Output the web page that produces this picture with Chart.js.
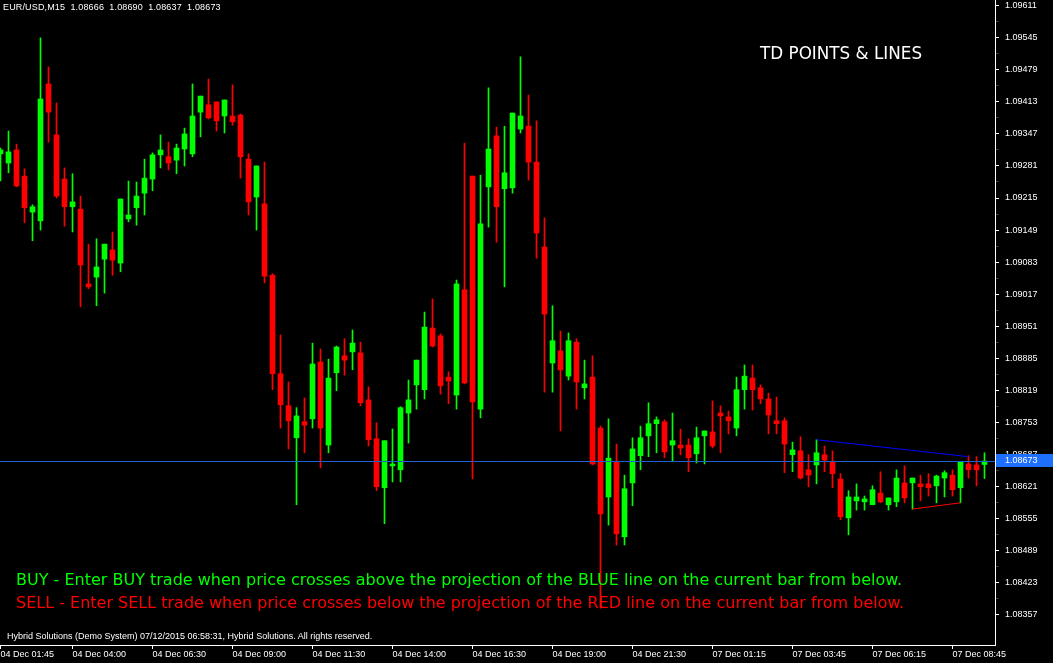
<!DOCTYPE html>
<html>
<head>
<meta charset="utf-8">
<script src="https://cdn.jsdelivr.net/npm/chart.js@4.4.1/dist/chart.umd.min.js"></script>
<style>
  html, body { margin: 0; padding: 0; background: #000; }
  #wrap { position: relative; width: 1053px; height: 663px; overflow: hidden; }
  canvas { display: block; }
  .txt { position: absolute; white-space: pre; line-height: 1; }
  .small { font-family: "Liberation Sans", sans-serif; font-size: 9px; color: #fff; }
  .big { font-family: "DejaVu Sans", sans-serif; font-size: 16px; }
</style>
</head>
<body>
<div id="wrap">
  <canvas id="chart" width="1053" height="663"></canvas>
  <div class="txt small" style="left:3px;top:3px;letter-spacing:0.15px;">EUR/USD,M15  1.08666  1.08690  1.08637  1.08673</div>
  <div class="txt" style="left:760px;top:45px;font-family:'DejaVu Sans',sans-serif;font-size:16.8px;color:#fff;">TD POINTS &amp; LINES</div>
  <div class="txt big" style="left:16px;top:572px;color:#00ff00;">BUY - Enter BUY trade when price crosses above the projection of the BLUE line on the current bar from below.</div>
  <div class="txt big" style="left:16px;top:595px;color:#ff0000;">SELL - Enter SELL trade when price crosses below the projection of the RED line on the current bar from below.</div>
  <div class="txt small" style="left:7px;top:632px;">Hybrid Solutions (Demo System) 07/12/2015 06:58:31, Hybrid Solutions. All rights reserved.</div>
</div>
<script>
// EUR/USD M15 bars, oldest first (bar 0 = 04 Dec 01:45)
const opens = [
  1.09306, 1.09287, 1.09314, 1.09260, 1.09186, 1.09168, 1.09450, 1.09345, 1.09254, 1.09197,
  1.09192, 1.09038, 1.09052, 1.09089, 1.09108, 1.09081, 1.09172, 1.09195, 1.09225, 1.09254,
  1.09304, 1.09300, 1.09293, 1.09316, 1.09306, 1.09392, 1.09407, 1.09413, 1.09384, 1.09384,
  1.09386, 1.09295, 1.09217, 1.09203, 1.09056, 1.08853, 1.08787, 1.08721, 1.08754, 1.08760,
  1.08877, 1.08706, 1.08855, 1.08890, 1.08898, 1.08896, 1.08799, 1.08719, 1.08618, 1.08663,
  1.08655, 1.08772, 1.08830, 1.08820, 1.08947, 1.08931, 1.08846, 1.08809, 1.09026, 1.09260,
  1.08780, 1.09238, 1.09343, 1.09234, 1.09236, 1.09357, 1.09363, 1.09289, 1.09114, 1.08875,
  1.08900, 1.08848, 1.08918, 1.08824, 1.08846, 1.08741, 1.08599, 1.08671, 1.08517, 1.08628,
  1.08684, 1.08725, 1.08750, 1.08754, 1.08706, 1.08706, 1.08706, 1.08688, 1.08725, 1.08733,
  1.08772, 1.08764, 1.08741, 1.08820, 1.08844, 1.08824, 1.08801, 1.08756, 1.08756, 1.08686,
  1.08694, 1.08655, 1.08665, 1.08686, 1.08671, 1.08636, 1.08556, 1.08591, 1.08589, 1.08583,
  1.08607, 1.08583, 1.08589, 1.08628, 1.08628, 1.08626, 1.08626, 1.08622, 1.08638, 1.08644,
  1.08618, 1.08667, 1.08665, 1.08666
];
const highs = [
  1.09318, 1.09353, 1.09326, 1.09275, 1.09201, 1.09545, 1.09485, 1.09411, 1.09277, 1.09265,
  1.09219, 1.09120, 1.09131, 1.09120, 1.09145, 1.09213, 1.09250, 1.09248, 1.09295, 1.09308,
  1.09345, 1.09330, 1.09326, 1.09359, 1.09450, 1.09425, 1.09460, 1.09413, 1.09417, 1.09448,
  1.09388, 1.09306, 1.09281, 1.09289, 1.09059, 1.08933, 1.08836, 1.08783, 1.08803, 1.08916,
  1.08904, 1.08883, 1.08910, 1.08925, 1.08943, 1.08918, 1.08826, 1.08752, 1.08715, 1.08739,
  1.08785, 1.08840, 1.08881, 1.08980, 1.09007, 1.08935, 1.08857, 1.09046, 1.09328, 1.09260,
  1.09262, 1.09442, 1.09361, 1.09363, 1.09390, 1.09506, 1.09427, 1.09374, 1.09174, 1.08993,
  1.08941, 1.08937, 1.08925, 1.08881, 1.08890, 1.08745, 1.08760, 1.08708, 1.08644, 1.08721,
  1.08745, 1.08793, 1.08764, 1.08758, 1.08772, 1.08739, 1.08719, 1.08743, 1.08735, 1.08797,
  1.08787, 1.08776, 1.08846, 1.08871, 1.08871, 1.08830, 1.08813, 1.08805, 1.08762, 1.08712,
  1.08723, 1.08686, 1.08717, 1.08704, 1.08694, 1.08647, 1.08612, 1.08626, 1.08601, 1.08622,
  1.08651, 1.08597, 1.08655, 1.08663, 1.08638, 1.08644, 1.08647, 1.08644, 1.08653, 1.08655,
  1.08671, 1.08684, 1.08682, 1.08690
];
const lows = [
  1.09250, 1.09267, 1.09238, 1.09164, 1.09127, 1.09149, 1.09330, 1.09215, 1.09157, 1.09145,
  1.08991, 1.09028, 1.08993, 1.09019, 1.09056, 1.09063, 1.09166, 1.09159, 1.09180, 1.09230,
  1.09277, 1.09273, 1.09265, 1.09281, 1.09300, 1.09341, 1.09378, 1.09353, 1.09349, 1.09365,
  1.09256, 1.09180, 1.09149, 1.09040, 1.08820, 1.08741, 1.08698, 1.08583, 1.08690, 1.08741,
  1.08659, 1.08690, 1.08818, 1.08850, 1.08861, 1.08787, 1.08704, 1.08612, 1.08544, 1.08630,
  1.08630, 1.08710, 1.08780, 1.08801, 1.08908, 1.08811, 1.08791, 1.08780, 1.08832, 1.08636,
  1.08762, 1.09155, 1.09124, 1.09032, 1.09225, 1.09349, 1.09252, 1.09091, 1.08815, 1.08815,
  1.08735, 1.08840, 1.08780, 1.08801, 1.08665, 1.08370, 1.08541, 1.08500, 1.08500, 1.08581,
  1.08655, 1.08682, 1.08690, 1.08680, 1.08673, 1.08686, 1.08651, 1.08669, 1.08667, 1.08700,
  1.08690, 1.08729, 1.08725, 1.08780, 1.08778, 1.08791, 1.08729, 1.08729, 1.08649, 1.08651,
  1.08636, 1.08620, 1.08626, 1.08651, 1.08618, 1.08552, 1.08521, 1.08572, 1.08572, 1.08583,
  1.08587, 1.08572, 1.08579, 1.08587, 1.08574, 1.08591, 1.08601, 1.08587, 1.08599, 1.08601,
  1.08587, 1.08638, 1.08622, 1.08637
];
const closes = [
  1.09314, 1.09310, 1.09240, 1.09195, 1.09197, 1.09419, 1.09392, 1.09219, 1.09197, 1.09207,
  1.09077, 1.09032, 1.09073, 1.09120, 1.09087, 1.09213, 1.09180, 1.09219, 1.09256, 1.09304,
  1.09314, 1.09287, 1.09318, 1.09347, 1.09384, 1.09425, 1.09380, 1.09374, 1.09417, 1.09372,
  1.09300, 1.09207, 1.09281, 1.09054, 1.08853, 1.08789, 1.08756, 1.08766, 1.08747, 1.08873,
  1.08741, 1.08844, 1.08908, 1.08881, 1.08916, 1.08793, 1.08717, 1.08620, 1.08715, 1.08667,
  1.08783, 1.08799, 1.08881, 1.08949, 1.08910, 1.08828, 1.08838, 1.09038, 1.08834, 1.08795,
  1.09162, 1.09316, 1.09197, 1.09267, 1.09390, 1.09384, 1.09289, 1.09143, 1.08976, 1.08921,
  1.08861, 1.08921, 1.08836, 1.08832, 1.08667, 1.08564, 1.08679, 1.08523, 1.08616, 1.08698,
  1.08721, 1.08750, 1.08758, 1.08692, 1.08715, 1.08700, 1.08680, 1.08721, 1.08735, 1.08704,
  1.08766, 1.08756, 1.08820, 1.08848, 1.08820, 1.08801, 1.08768, 1.08750, 1.08708, 1.08696,
  1.08638, 1.08644, 1.08690, 1.08675, 1.08647, 1.08558, 1.08599, 1.08599, 1.08595, 1.08614,
  1.08589, 1.08597, 1.08638, 1.08597, 1.08638, 1.08620, 1.08618, 1.08642, 1.08649, 1.08614,
  1.08671, 1.08655, 1.08655, 1.08673
];

// time axis labels and the bar each one sits on
const timeLabels = ["04 Dec 01:45", "04 Dec 04:00", "04 Dec 06:30", "04 Dec 09:00", "04 Dec 11:30",
  "04 Dec 14:00", "04 Dec 16:30", "04 Dec 19:00", "04 Dec 21:30", "07 Dec 01:15",
  "07 Dec 03:45", "07 Dec 06:15", "07 Dec 08:45"];
const labelBars = [0, 9, 19, 29, 39, 49, 59, 69, 79, 89, 99, 109, 119];

// price scale labels
const priceTicks = [1.09611, 1.09545, 1.09479, 1.09413, 1.09347, 1.09281, 1.09215, 1.09149,
  1.09083, 1.09017, 1.08951, 1.08885, 1.08819, 1.08753, 1.08687, 1.08621, 1.08555, 1.08489,
  1.08423, 1.08357];

const bid = 1.08673;

// TD lines (bar index, price)
const tdBlueBars = [102, 121];
const tdBluePrices = [1.08717, 1.08682];
const tdRedBars = [114, 120];
const tdRedPrices = [1.08574, 1.08587];

const upColor = "#00ff00";
const downColor = "#ff0000";

const candleColors = closes.map((close, i) => close >= opens[i] ? upColor : downColor);

const wickData = highs.map((high, i) => ({ x: i, y: [lows[i], high] }));
const bodyData = opens.map((open, i) => ({ x: i, y: [open, closes[i]] }));

// minor marks half way between the labelled ticks
const allTicks = [];
priceTicks.forEach((price, i) => {
  allTicks.push({ value: price, major: true });
  if (i < priceTicks.length - 1) {
    allTicks.push({ value: (price + priceTicks[i + 1]) / 2, major: false });
  }
});

const bidMarker = {
  id: "bidMarker",
  afterDatasetsDraw(chart) {
    const { ctx, chartArea, scales } = chart;
    const y = Math.round(scales.y.getPixelForValue(bid)) + 0.5;
    ctx.save();
    ctx.strokeStyle = "#2060d0";
    ctx.lineWidth = 1;
    ctx.beginPath();
    ctx.moveTo(chartArea.left, y);
    ctx.lineTo(chartArea.right, y);
    ctx.stroke();
    ctx.restore();
  },
  afterDraw(chart) {
    const { ctx, chartArea, scales } = chart;
    const y = Math.round(scales.y.getPixelForValue(bid));
    ctx.save();
    ctx.fillStyle = "#1e6eff";
    ctx.fillRect(chartArea.right + 1, y - 7, chart.width - chartArea.right - 1, 13);
    ctx.fillStyle = "#ffffff";
    ctx.font = "9px 'Liberation Sans'";
    ctx.textBaseline = "middle";
    ctx.fillText(bid.toFixed(5), chartArea.right + 10, y);
    ctx.restore();
  }
};

Chart.defaults.font.family = "'Liberation Sans', sans-serif";
Chart.defaults.font.size = 9;
Chart.defaults.color = "#ffffff";

new Chart(document.getElementById("chart"), {
  type: "bar",
  data: {
    datasets: [
      {
        label: "wick",
        data: wickData,
        backgroundColor: candleColors,
        barThickness: 1,
        stack: "ohlc",
        order: 2
      },
      {
        label: "body",
        data: bodyData,
        backgroundColor: candleColors,
        barThickness: 5,
        stack: "ohlc",
        order: 1
      },
      {
        type: "line",
        label: "TD upper",
        data: tdBlueBars.map((bar, i) => ({ x: bar, y: tdBluePrices[i] })),
        borderColor: "#0000ff",
        borderWidth: 1,
        pointRadius: 0,
        order: 0
      },
      {
        type: "line",
        label: "TD lower",
        data: tdRedBars.map((bar, i) => ({ x: bar, y: tdRedPrices[i] })),
        borderColor: "#ff0000",
        borderWidth: 1,
        pointRadius: 0,
        order: 0
      }
    ]
  },
  options: {
    responsive: false,
    animation: false,
    devicePixelRatio: 1,
    events: [],
    layout: { padding: 0 },
    plugins: {
      legend: { display: false },
      tooltip: { enabled: false }
    },
    scales: {
      x: {
        type: "linear",
        min: -0.0625,
        max: 124.3125,
        offset: false,
        grid: { display: true, drawOnChartArea: false, offset: false, color: "#ffffff", tickLength: 4 },
        border: { color: "#ffffff" },
        ticks: {
          autoSkip: false,
          maxRotation: 0,
          align: "start",
          padding: 0,
          color: "#ffffff",
          callback: (value) => {
            const idx = labelBars.indexOf(value);
            return idx >= 0 ? timeLabels[idx] : "";
          }
        },
        afterBuildTicks: (scale) => {
          scale.ticks = labelBars.map((bar) => ({ value: bar }));
        },
        afterFit: (scale) => {
          scale.height = 18;
          scale.paddingLeft = 0;
          scale.paddingRight = 0;
        }
      },
      y: {
        position: "right",
        stacked: false,
        min: 1.08294,
        max: 1.09623,
        grid: {
          display: true,
          drawOnChartArea: false,
          tickLength: 4,
          color: (ctx) => (ctx.tick && !ctx.tick.major) ? "#3a3a3a" : "#ffffff"
        },
        border: { color: "#ffffff" },
        ticks: {
          autoSkip: false,
          padding: 6,
          color: "#ffffff",
          callback: (value, index, ticks) => ticks[index].major ? value.toFixed(5) : ""
        },
        afterBuildTicks: (scale) => {
          scale.ticks = allTicks.map((t) => ({ value: t.value, major: t.major }));
        },
        afterFit: (scale) => {
          scale.width = 58;
          scale.paddingTop = 0;
          scale.paddingBottom = 0;
        }
      }
    }
  },
  plugins: [bidMarker]
});
</script>
</body>
</html>
